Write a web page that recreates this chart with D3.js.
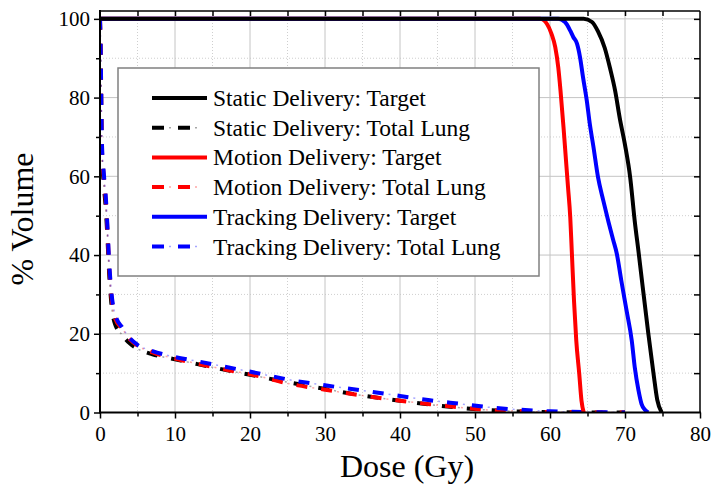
<!DOCTYPE html>
<html><head><meta charset="utf-8">
<script src="https://cdn.jsdelivr.net/npm/d3@7"></script>
<style>
body{margin:0;background:#fff}
svg{display:block}
text{font-family:"Liberation Serif","Times New Roman",serif;fill:#000}
</style>
</head><body>
<svg id="chart" width="720" height="495"></svg>
<script>
// ---------- data ----------
const xTicks = [0,10,20,30,40,50,60,70,80];
const xMinor = [5,15,25,35,45,55,65,75];
const yTicks = [0,20,40,60,80,100];
const yMinor = [10,30,50,70,90];

const staticTargetDose = [0,64.5,65.6,66.4,67.3,68,68.7,69.3,70,70.7,71.3,71.8,73.1,73.8,74.3,74.9];
const staticTargetVol  = [100,100,99.2,96.8,92.6,87.5,81.6,74.8,68,59.6,48.6,40.9,20.2,9.9,3.2,0];
const motionTargetDose = [0,58.7,59.6,60.2,60.7,61.1,61.4,61.8,62.1,62.4,62.7,62.9,63.2,63.5,63.9,64.2,64.5];
const motionTargetVol  = [100,100,98.7,96.2,92.8,87.7,81.8,72.5,64.9,57.3,49.6,41.2,28.4,18.3,9.8,3,0];
const trackTargetDose  = [0,61.1,62,62.7,63.1,63.6,64,64.4,64.9,65.3,65.8,66.4,67.1,67.8,68.4,68.9,69.5,70.2,70.9,71.3,71.8,72.2,72.7,73.1];
const trackTargetVol   = [100,100,99.2,97,95.4,93.7,90.3,85.2,79.3,73.4,67.4,59.8,53.9,48.4,44,40.4,33.6,26,18.3,11.5,5.6,2.2,0.6,0];

const lungDose       = [0,0.1,0.25,0.5,0.8,1.0,1.2,1.5,2.0,3,4,5,7,10,13,17,21,25,30,35,40,44,48,52,56,60,65,70];
const staticLungVol  = [100,89,66,58,51,44,36,28,22.5,19.6,17.5,16.2,14.8,13.5,12.3,10.7,9.2,7.7,6.0,4.3,3.0,2.0,1.2,0.6,0.25,0.08,0.02,0];
const motionLungVol  = [100,90,67,60,53,46,38,30,24,21.2,18.6,17,15.3,13.7,12.4,10.8,9.3,7.4,5.8,4.3,3.0,2.1,1.3,0.6,0.3,0.1,0.02,0];
const trackLungVol   = [100,91,69,61,54,47,39,31,25,21.5,18.8,17.2,15.6,14.1,13.0,11.5,10.0,8.4,6.9,5.6,4.2,3.1,2.2,1.3,0.7,0.3,0.1,0.02];

const legendLabels = ["Static Delivery: Target","Static Delivery: Total Lung",
  "Motion Delivery: Target","Motion Delivery: Total Lung",
  "Tracking Delivery: Target","Tracking Delivery: Total Lung"];
const seriesColors = ["#000000","#000000","#ff0000","#ff0000","#0000ff","#0000ff"];
const seriesDashed = [false,true,false,true,false,true];

// ---------- layout ----------
const L=100, R=700, T=11, B=412.5;
const svg = d3.select("#chart");
const x = d3.scaleLinear().domain([0,80]).range([L,R]);
const y = d3.scaleLinear().domain([0,102]).range([B,T]);

svg.append("defs").append("clipPath").attr("id","clip")
  .append("rect").attr("x",L).attr("y",T-3).attr("width",R-L).attr("height",B-T+3);

// grid
const grid = svg.append("g");
grid.selectAll(".gxm").data(xMinor).join("line")
  .attr("x1",d=>x(d)).attr("x2",d=>x(d)).attr("y1",T).attr("y2",B)
  .attr("stroke","#cfcfcf").attr("stroke-width",1).attr("stroke-dasharray","1,2");
grid.selectAll(".gym").data(yMinor).join("line")
  .attr("x1",L).attr("x2",R).attr("y1",d=>y(d)).attr("y2",d=>y(d))
  .attr("stroke","#cfcfcf").attr("stroke-width",1).attr("stroke-dasharray","1,2");
grid.selectAll(".gx").data(xTicks.slice(1,-1)).join("line")
  .attr("x1",d=>x(d)).attr("x2",d=>x(d)).attr("y1",T).attr("y2",B)
  .attr("stroke","#c4c4c4").attr("stroke-width",1);
grid.selectAll(".gy").data(yTicks.slice(1)).join("line")
  .attr("x1",L).attr("x2",R).attr("y1",d=>y(d)).attr("y2",d=>y(d))
  .attr("stroke","#c4c4c4").attr("stroke-width",1);

// curves
const line = d3.line().x(d=>x(d[0])).y(d=>y(d[1])).curve(d3.curveMonotoneX);
const zip = (a,b)=>a.map((v,i)=>[v,b[i]]);
const plot = svg.append("g").attr("clip-path","url(#clip)");

function dashed(g, pts, color){
  g.append("path").attr("d",line(pts)).attr("fill","none").attr("stroke",color)
    .attr("stroke-width",4).attr("stroke-dasharray","11,14");
  g.append("path").attr("d",line(pts)).attr("fill","none").attr("stroke",color)
    .attr("stroke-width",1.5).attr("stroke-opacity",0.35).attr("stroke-dasharray","0,16,2,7");
}
function solid(g, pts, color){
  g.append("path").attr("d",line(pts)).attr("fill","none").attr("stroke",color)
    .attr("stroke-width",4).attr("stroke-linejoin","round");
}
dashed(plot, zip(lungDose,staticLungVol), seriesColors[1]);
dashed(plot, zip(lungDose,motionLungVol), seriesColors[3]);
dashed(plot, zip(lungDose,trackLungVol), seriesColors[5]);
solid(plot, zip(motionTargetDose,motionTargetVol), seriesColors[2]);
solid(plot, zip(trackTargetDose,trackTargetVol), seriesColors[4]);
solid(plot, zip(staticTargetDose,staticTargetVol), seriesColors[0]);

// axes
const fs = "21px";
const ax = svg.append("g").attr("transform",`translate(0,${B})`)
  .call(d3.axisBottom(x).tickValues(xTicks).tickSize(6).tickPadding(8).tickFormat(d3.format("d")));
const axm = svg.append("g").attr("transform",`translate(0,${B})`)
  .call(d3.axisBottom(x).tickValues(xMinor).tickSize(4).tickFormat(""));
const ay = svg.append("g").attr("transform",`translate(${L},0)`)
  .call(d3.axisLeft(y).tickValues(yTicks).tickSize(6).tickPadding(4).tickFormat(d3.format("d")));
const aym = svg.append("g").attr("transform",`translate(${L},0)`)
  .call(d3.axisLeft(y).tickValues(yMinor).tickSize(4).tickFormat(""));
const at = svg.append("g").attr("transform",`translate(0,${T})`)
  .call(d3.axisBottom(x).tickValues(xTicks.concat(xMinor).filter(d=>d>0&&d<80)).tickSize(5).tickFormat(""));
const ar = svg.append("g").attr("transform",`translate(${R},0)`)
  .call(d3.axisLeft(y).tickValues(yTicks.concat(yMinor).filter(d=>d>0)).tickSize(6).tickFormat(""));
[ax,axm,ay,aym,at,ar].forEach(g=>{
  g.select(".domain").remove();
  g.selectAll(".tick line").attr("stroke","#000").attr("stroke-width",1.5);
  g.selectAll("text").style("font-size",fs).style("font-family",'"Liberation Serif",serif');
});

// frame
svg.append("line").attr("x1",L).attr("x2",R).attr("y1",T).attr("y2",T).attr("stroke","#000").attr("stroke-width",1.5);
svg.append("line").attr("x1",R).attr("x2",R).attr("y1",T).attr("y2",B).attr("stroke","#000").attr("stroke-width",1.5);
svg.append("line").attr("x1",L).attr("x2",R+1).attr("y1",B).attr("y2",B).attr("stroke","#000").attr("stroke-width",2);
svg.append("line").attr("x1",L).attr("x2",L).attr("y1",T-1).attr("y2",B+1).attr("stroke","#000").attr("stroke-width",2);

// axis titles
svg.append("text").attr("x",407).attr("y",477).attr("text-anchor","middle")
  .style("font-size","32px").text("Dose (Gy)");
svg.append("text").attr("transform","translate(33,219) rotate(-90)").attr("text-anchor","middle")
  .style("font-size","32px").text("% Volume");

// legend
const lg = svg.append("g");
lg.append("rect").attr("x",118).attr("y",68).attr("width",421).attr("height",208)
  .attr("fill","#fff").attr("stroke","#808080").attr("stroke-width",1.5);
legendLabels.forEach((lab,i)=>{
  const by = 106 + i*29.7;
  const ln = d3.line();
  if(seriesDashed[i]){
    const pts = [[152,by-8],[199,by-8]];
    lg.append("path").attr("d",ln(pts)).attr("stroke",seriesColors[i]).attr("stroke-width",4)
      .attr("stroke-dasharray","12,14");
    lg.append("path").attr("d",ln(pts)).attr("stroke",seriesColors[i]).attr("stroke-width",1.5)
      .attr("stroke-opacity",0.35).attr("stroke-dasharray","0,17,2,7");
  } else {
    lg.append("path").attr("d",ln([[152,by-8],[207,by-8]])).attr("stroke",seriesColors[i]).attr("stroke-width",4);
  }
  lg.append("text").attr("x",213).attr("y",by).style("font-size","23.5px").text(lab);
});
</script>
</body></html>
